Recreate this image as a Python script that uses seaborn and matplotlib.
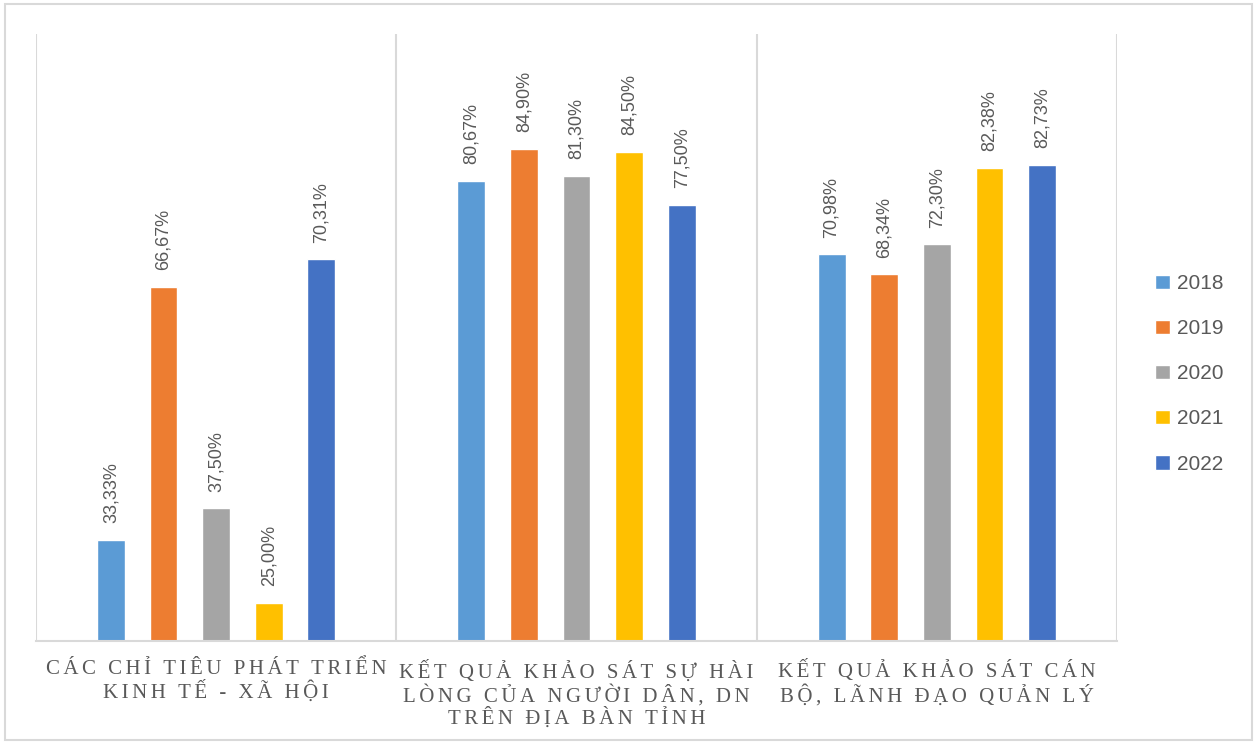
import matplotlib
matplotlib.use("Agg")
import matplotlib.pyplot as plt
import seaborn as sns
import pandas as pd
from matplotlib.patches import Rectangle

categories = [
    "CÁC CHỈ TIÊU PHÁT TRIỂN\nKINH TẾ - XÃ HỘI",
    "KẾT QUẢ KHẢO SÁT SỰ HÀI\nLÒNG CỦA NGƯỜI DÂN, DN\nTRÊN ĐỊA BÀN TỈNH",
    "KẾT QUẢ KHẢO SÁT CÁN\nBỘ, LÃNH ĐẠO QUẢN LÝ",
]
years = ["2018", "2019", "2020", "2021", "2022"]
v2018 = [33.33, 80.67, 70.98]
v2019 = [66.67, 84.90, 68.34]
v2020 = [37.50, 81.30, 72.30]
v2021 = [25.00, 84.50, 82.38]
v2022 = [70.31, 77.50, 82.73]
colors = ["#5B9BD5", "#ED7D31", "#A5A5A5", "#FFC000", "#4472C4"]

series = [v2018, v2019, v2020, v2021, v2022]
rows = []
for y, vals in zip(years, series):
    for c, v in zip(categories, vals):
        rows.append({"cat": c, "year": y, "val": v})
df = pd.DataFrame(rows)

sns.set_style("white")
plt.rcParams["font.family"] = ["Liberation Sans", "DejaVu Sans"]

fig = plt.figure(figsize=(12.59, 7.44), dpi=100)
ax = fig.add_axes([36 / 1259, 103 / 744, (1117 - 36) / 1259, (641 - 34) / 744])

sns.barplot(data=df, x="cat", y="val", hue="year", order=categories,
            hue_order=years, palette=colors, width=0.73, gap=0.47,
            saturation=1, ax=ax, errorbar=None)

ax.set_ylim(20, 100)
ax.set_xlim(-0.5, 2.5)
ax.set_yticks([])
ax.set_xlabel("")
ax.set_ylabel("")
for s in ["top", "left", "right"]:
    ax.spines[s].set_visible(False)
ax.spines["bottom"].set_color("#d9d9d9")
ax.spines["bottom"].set_linewidth(1.5)

ax.set_xticks([-0.5, 0.5, 1.5, 2.5], minor=True)
ax.grid(True, which="minor", axis="x", color="#d9d9d9", linewidth=1.5)
ax.tick_params(axis="x", which="both", length=0, pad=14)


def spaced(s):
    return "\n".join("\u200a\u200a".join(list(line)) for line in s.split("\n"))


ax.set_xticks(range(len(categories)))
ax.set_xticklabels([spaced(c) for c in categories], fontsize=15,
                   family=["Liberation Serif", "DejaVu Serif"],
                   color="#595959", linespacing=1.1)

for cont in ax.containers:
    for bar in cont:
        h = bar.get_height()
        ax.annotate(f"{h:.2f}".replace(".", ",") + "%",
                    (bar.get_x() + bar.get_width() / 2, h),
                    xytext=(0, 12), textcoords="offset points",
                    rotation=90, ha="center", va="bottom",
                    fontsize=13, color="#595959")

leg = ax.legend(loc="center left", bbox_to_anchor=(1.018, 0.44), frameon=False,
                fontsize=15, handlelength=0.7, handleheight=0.7,
                labelspacing=1.25, handletextpad=0.35)
for t in leg.get_texts():
    t.set_color("#595959")

fig.patches.append(Rectangle((5 / 1259, 4 / 744), 1247 / 1259, 736 / 744,
                             transform=fig.transFigure, fill=False,
                             edgecolor="#d9d9d9", linewidth=1.5))

fig.savefig("out.png", dpi=100)
